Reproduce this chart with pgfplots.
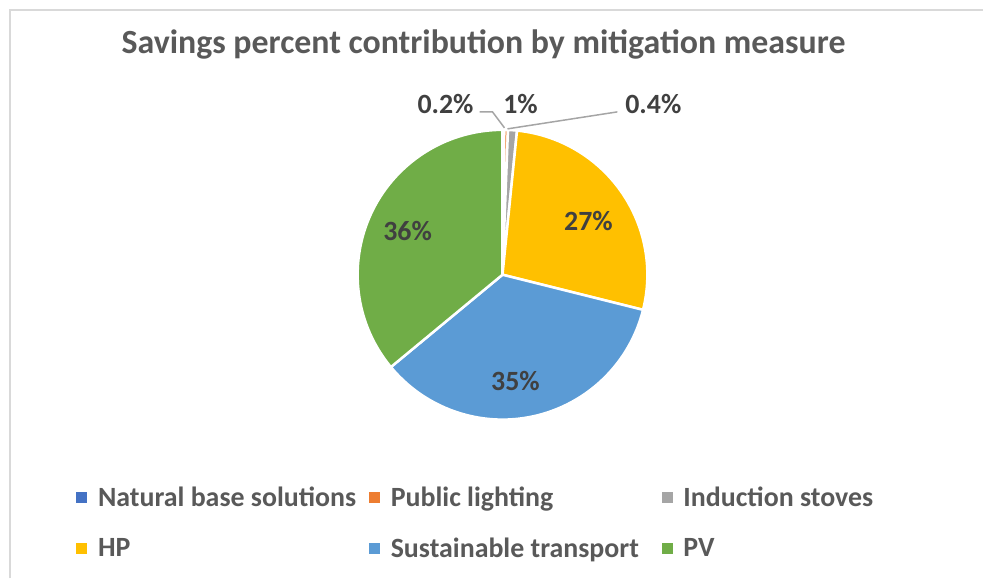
\documentclass[border=0pt]{standalone}
\usepackage{pgfplots}
\pgfplotsset{compat=1.18}
\usepackage{fontspec}
\setmainfont{Carlito}
\definecolor{cNBS}{HTML}{4472C4}
\definecolor{cPL}{HTML}{ED7D31}
\definecolor{cIS}{HTML}{A5A5A5}
\definecolor{cHP}{HTML}{FFC000}
\definecolor{cST}{HTML}{5B9BD5}
\definecolor{cPV}{HTML}{70AD47}
\definecolor{ctitle}{HTML}{595959}
\definecolor{clab}{HTML}{404040}
\definecolor{cborder}{HTML}{D9D9D9}
\begin{document}
\begin{tikzpicture}
\begin{axis}[
  scale only axis, width=984bp, height=579bp,
  xmin=0, xmax=984, ymin=0, ymax=579,
  hide axis, clip=false,
  legend columns=3,
  legend image code/.code={\fill[#1,draw=none] (0bp,-5.5bp) rectangle (11bp,5.5bp);},
  legend style={at={(axis cs:76,93)}, anchor=north west, draw=none, fill=none,
    font=\bfseries\fontsize{28}{32}\selectfont, text=ctitle,
    row sep=28bp, inner sep=0pt,
    nodes={inner sep=1pt},
    /tikz/every odd column/.append style={column sep=10bp}},
  legend cell align=left,
]
\path (axis cs:0,0) rectangle (axis cs:984,579);
\draw[cborder, line width=2bp] (axis cs:10,0) -- (axis cs:10,569) -- (axis cs:984,569);
\addlegendimage{fill=cNBS}\addlegendentry{\makebox[270bp][l]{Natural base solutions}}
\addlegendimage{fill=cPL}\addlegendentry{\makebox[270bp][l]{Public lighting}}
\addlegendimage{fill=cIS}\addlegendentry{Induction stoves}
\addlegendimage{fill=cHP}\addlegendentry{\makebox[270bp][l]{HP}}
\addlegendimage{fill=cST}\addlegendentry{\makebox[270bp][l]{Sustainable transport}}
\addlegendimage{fill=cPV}\addlegendentry{PV}
\def\a{90}
\foreach \v/\c in {0.2/cNBS,0.4/cPL,1.0/cIS,27.3/cHP,35.1/cST,36.0/cPV}{
  \pgfmathsetmacro\b{\a-3.6*\v}
  \edef\temp{\noexpand\filldraw[fill=\c, draw=white, line width=2.5bp, line join=round]
    (axis cs:503,304) -- ++(\a:145bp) arc[start angle=\a, end angle=\b, radius=145bp] -- cycle;}
  \temp
  \xdef\a{\b}
}
\node[font=\bfseries\fontsize{34}{38}\selectfont, text=ctitle] at (axis cs:484,534) {Savings percent contribution by mitigation measure};
\begin{scope}[every node/.style={font=\bfseries\fontsize{28}{32}\selectfont, text=clab}]
\node at (axis cs:589,358) {27\%};
\node at (axis cs:408,348) {36\%};
\node at (axis cs:516,198) {35\%};
\node at (axis cs:446,475) {0.2\%};
\node at (axis cs:521,475) {1\%};
\node at (axis cs:654,475) {0.4\%};
\end{scope}
\draw[cIS, line width=1.5bp] (axis cs:480,467) -- (axis cs:493,467) -- (axis cs:505,451);
\draw[cIS, line width=1.5bp] (axis cs:618,467) -- (axis cs:508,450);
\end{axis}
\end{tikzpicture}
\end{document}
